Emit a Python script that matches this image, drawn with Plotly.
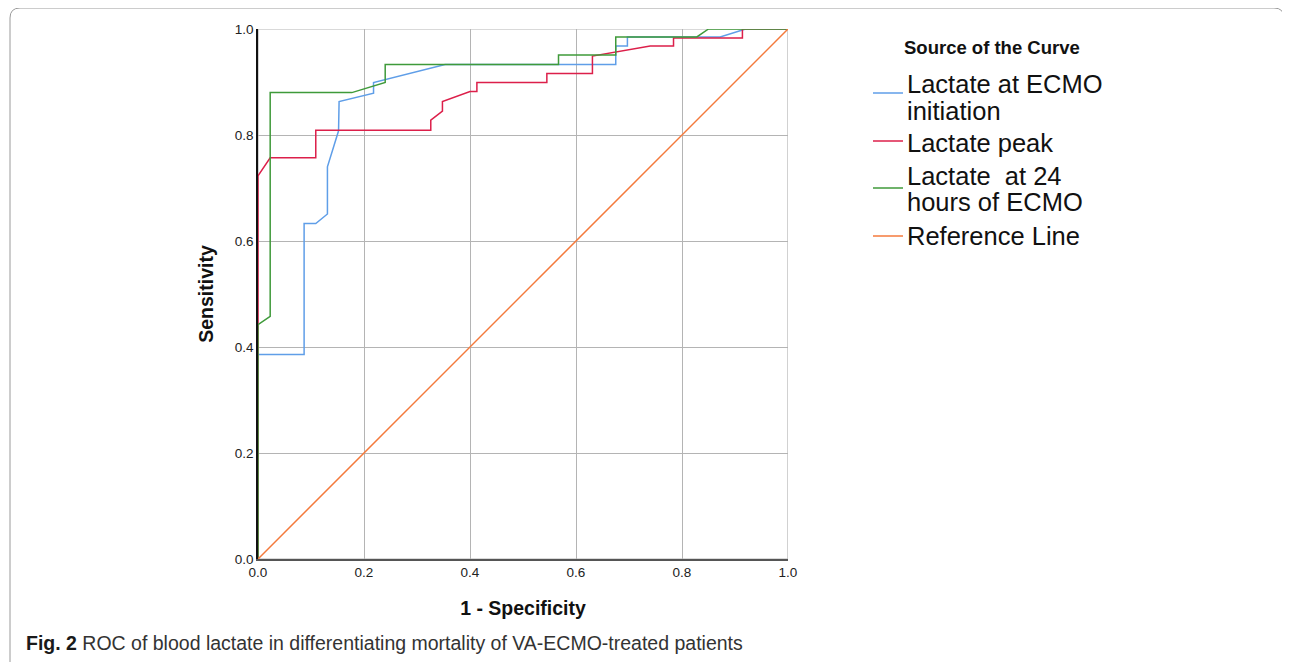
import plotly.graph_objects as go

# ---- data ----
blue_x = [0, 0, 0.087, 0.087, 0.109, 0.131, 0.131, 0.152, 0.153, 0.218, 0.218, 0.353, 0.675, 0.675, 0.697, 0.697, 0.872, 0.92, 1.0]
blue_y = [0, 0.386, 0.386, 0.633, 0.633, 0.651, 0.740, 0.808, 0.863, 0.879, 0.899, 0.933, 0.933, 0.968, 0.968, 0.985, 0.985, 1.0, 1.0]

red_x = [0, 0, 0.023, 0.109, 0.109, 0.326, 0.326, 0.348, 0.348, 0.40, 0.413, 0.413, 0.545, 0.545, 0.631, 0.631, 0.74, 0.784, 0.784, 0.914, 0.914, 1.0]
red_y = [0, 0.723, 0.757, 0.757, 0.809, 0.809, 0.828, 0.845, 0.863, 0.882, 0.882, 0.899, 0.899, 0.916, 0.916, 0.949, 0.968, 0.968, 0.983, 0.983, 1.0, 1.0]

green_x = [0, 0, 0.023, 0.023, 0.177, 0.24, 0.24, 0.567, 0.567, 0.675, 0.675, 0.828, 0.85, 1.0]
green_y = [0, 0.442, 0.458, 0.880, 0.880, 0.899, 0.933, 0.933, 0.951, 0.951, 0.985, 0.985, 1.0, 1.0]

ref_x = [0, 1]
ref_y = [0, 1]

legend_title = "Source of the Curve"
names = [["Lactate at ECMO", "initiation"], ["Lactate peak"],
         ["Lactate\u00a0 at 24", "hours of ECMO"], ["Reference Line"]]
colors = ["#5f9ee8", "#dc1f4a", "#3f9a3a", "#f47a3c"]
tick_vals = [0, 0.2, 0.4, 0.6, 0.8, 1.0]
tick_text = ["0.0", "0.2", "0.4", "0.6", "0.8", "1.0"]
caption_bold = "Fig. 2"
caption_text = "ROC of blood lactate in differentiating mortality of VA-ECMO-treated patients"

# ---- layout geometry (page body has an 8px margin) ----
OFF = 8
W, H = 1290 - OFF, 662 - OFF
L_ref, R_ref, T_ref, B_ref = 258, 788, 29, 559
PW = R_ref - L_ref
PH = B_ref - T_ref


def rx(xr):
    return (xr - L_ref) / PW


def ry(yr):
    return (B_ref - yr) / PH


fig = go.Figure()
for xs, ys, nm, c in zip([blue_x, red_x, green_x, ref_x],
                         [blue_y, red_y, green_y, ref_y], names, colors):
    fig.add_trace(go.Scatter(x=xs, y=ys, mode="lines", name=" ".join(nm),
                             line=dict(color=c, width=1.5),
                             showlegend=False, hoverinfo="skip"))

FONT = "Liberation Sans, Arial, sans-serif"
axis_font = dict(family=FONT, size=13.5, color="#222")

fig.update_xaxes(range=[0, 1], tickvals=tick_vals, ticktext=tick_text,
                 showgrid=True, gridcolor="#b4b4b4", gridwidth=1.2,
                 showline=True, linecolor="#555", linewidth=1.5,
                 zeroline=False, ticks="", tickfont=axis_font,
                 title=dict(text="<b>1 - Specificity</b>",
                            font=dict(family=FONT, size=19.5, color="#111"), standoff=22))
fig.update_yaxes(range=[0, 1], tickvals=tick_vals, ticktext=tick_text,
                 showgrid=True, gridcolor="#b4b4b4", gridwidth=1.2,
                 showline=True, linecolor="#111", linewidth=1.5,
                 zeroline=False, ticks="", tickfont=axis_font,
                 title=dict(text="<b>Sensitivity</b>",
                            font=dict(family=FONT, size=19.5, color="#111"), standoff=16))

shapes = [
    dict(type="rect", xref="x", yref="y", x0=0, y0=0, x1=1, y1=1,
         line=dict(color="#b4b4b4", width=1.2), layer="below"),
    dict(type="path", xref="paper", yref="paper",
         path=(f"M {rx(10)},{ry(672)} L {rx(10)},{ry(18)} "
               f"Q {rx(10)},{ry(8)} {rx(20)},{ry(8)} "
               f"L {rx(1274)},{ry(8)} Q {rx(1284)},{ry(8)} {rx(1284)},{ry(18)} "
               f"L {rx(1284)},{ry(672)}"),
         line=dict(color="#9a9a9a", width=1)),
]

annotations = [
    dict(xref="paper", yref="paper", x=rx(24), y=ry(643), xanchor="left", yanchor="middle",
         showarrow=False, align="left",
         text=f"<b>{caption_bold}</b> <span style='color:#333'>{caption_text}</span>",
         font=dict(family=FONT, size=19.5, color="#1a1a1a")),
    dict(xref="paper", yref="paper", x=rx(992), y=ry(47), xanchor="center", yanchor="middle",
         showarrow=False, text=f"<b>{legend_title}</b>",
         font=dict(family=FONT, size=18.5, color="#111")),
]

# manual legend: text line centres and sample-line heights (reference pixels)
line_centres = [[84, 111], [143], [176, 202], [236]]
sample_y = [93, 141, 188, 236]
for lines, ys, sy, c in zip(names, line_centres, sample_y, colors):
    for t, yc in zip(lines, ys):
        annotations.append(dict(xref="paper", yref="paper", x=rx(905), y=ry(yc),
                                xanchor="left", yanchor="middle", showarrow=False,
                                text=t, font=dict(family=FONT, size=25.5, color="#111")))
    shapes.append(dict(type="line", xref="paper", yref="paper",
                       x0=rx(873), x1=rx(903), y0=ry(sy), y1=ry(sy),
                       line=dict(color=c, width=1.5)))

fig.update_layout(
    width=W, height=H,
    margin=dict(l=L_ref - OFF, r=W - (R_ref - OFF), t=T_ref - OFF, b=H - (B_ref - OFF),
                autoexpand=False),
    paper_bgcolor="white", plot_bgcolor="white",
    shapes=shapes, annotations=annotations,
    showlegend=False,
)

fig.write_html("out.html")
